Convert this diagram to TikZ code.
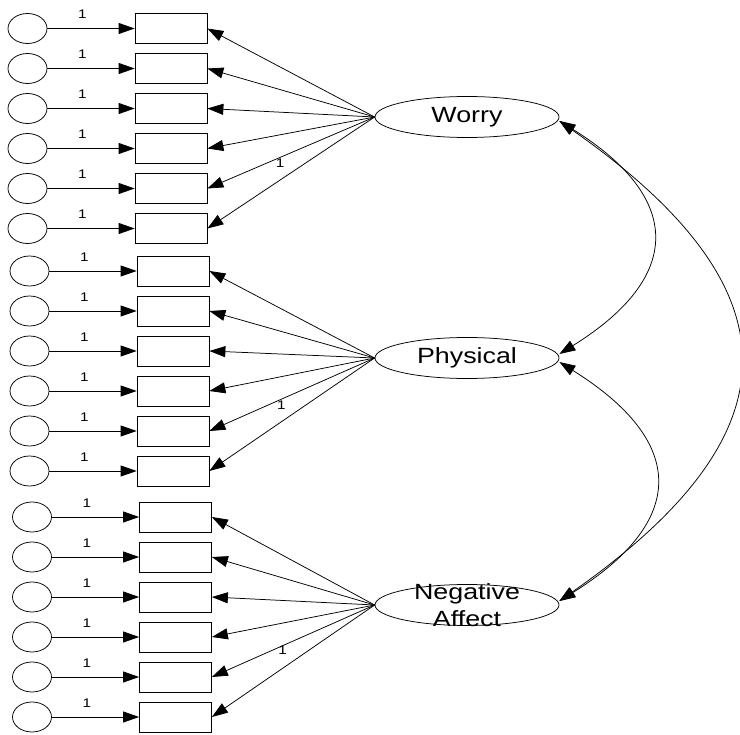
\documentclass[tikz,border=0pt]{standalone}
\usepackage{fontspec}
\usepackage{graphicx}
\setmainfont{Liberation Sans}
\usetikzlibrary{arrows.meta,shapes.geometric}
\newcommand{\widetxt}[1]{\scalebox{1.22}[1]{#1}}
\begin{document}
\begin{tikzpicture}[x=1pt,y=-1pt,
  errvar/.style={draw, ellipse, minimum width=39pt, minimum height=30pt, inner sep=0pt, line width=0.75pt},
  obs/.style={draw, rectangle, minimum width=72pt, minimum height=30pt, inner sep=0pt, line width=0.75pt},
  latent/.style={draw, ellipse, minimum width=184pt, minimum height=41pt, inner sep=0pt, line width=0.75pt},
  lattext/.style={font=\fontsize{22}{27}\selectfont, align=center, inner sep=0pt},
  tip/.tip={Triangle[length=16pt,width=11pt]},
  regpath/.style={-tip, line width=0.75pt},
  cov/.style={tip-tip, line width=0.75pt},
  one/.style={font=\fontsize{12.5}{14}\selectfont, inner sep=0pt}
]
\useasboundingbox (0,0) rectangle (740,735);

% latent factors
\node[latent, label={[lattext]center:\widetxt{Worry}}] (worry) at (467,117) {};
\node[latent, label={[lattext]center:\widetxt{Physical}}] (phys) at (467,358) {};
\node[latent, label={[lattext]center:{\widetxt{Negative}\\\widetxt{Affect}}}] (neg) at (467,605) {};

% indicators with their error terms
\foreach \g/\yy/\dx/\lat in {1/28.5/0/worry, 2/271/2/phys, 3/517/4.5/neg} {
  \foreach \i in {1,...,6} {
    \pgfmathsetmacro\ry{\yy+40*(\i-1)}
    \node[errvar] (e\g\i) at (27.5+\dx,\ry) {};
    \node[obs] (v\g\i) at (171+\dx,\ry) {};
    \draw[regpath] (e\g\i) -- node[one, pos=0.4, yshift=14pt] {\widetxt{1}} (v\g\i);
    \draw[regpath] (\lat.west) -- (v\g\i.east);
  }
}

% fixed loadings
\path (worry.west) -- node[one, pos=0.565, yshift=-5.5pt] {\widetxt{1}} (v15.east);
\path (phys.west) -- node[one, pos=0.565, yshift=-5.5pt] {\widetxt{1}} (v25.east);
\path (neg.west) -- node[one, pos=0.565, yshift=-5pt] {\widetxt{1}} (v35.east);

% factor covariances
\draw[cov] ([yshift=-4pt]worry.east) .. controls +(124,77) and +(124,-77) .. ([yshift=4pt]phys.east);
\draw[cov] ([yshift=-4pt]worry.east) .. controls +(240,168) and +(240,-168) .. ([yshift=4pt]neg.east);
\draw[cov] ([yshift=-4pt]phys.east) .. controls +(128,80) and +(128,-80) .. ([yshift=4pt]neg.east);
\end{tikzpicture}
\end{document}
